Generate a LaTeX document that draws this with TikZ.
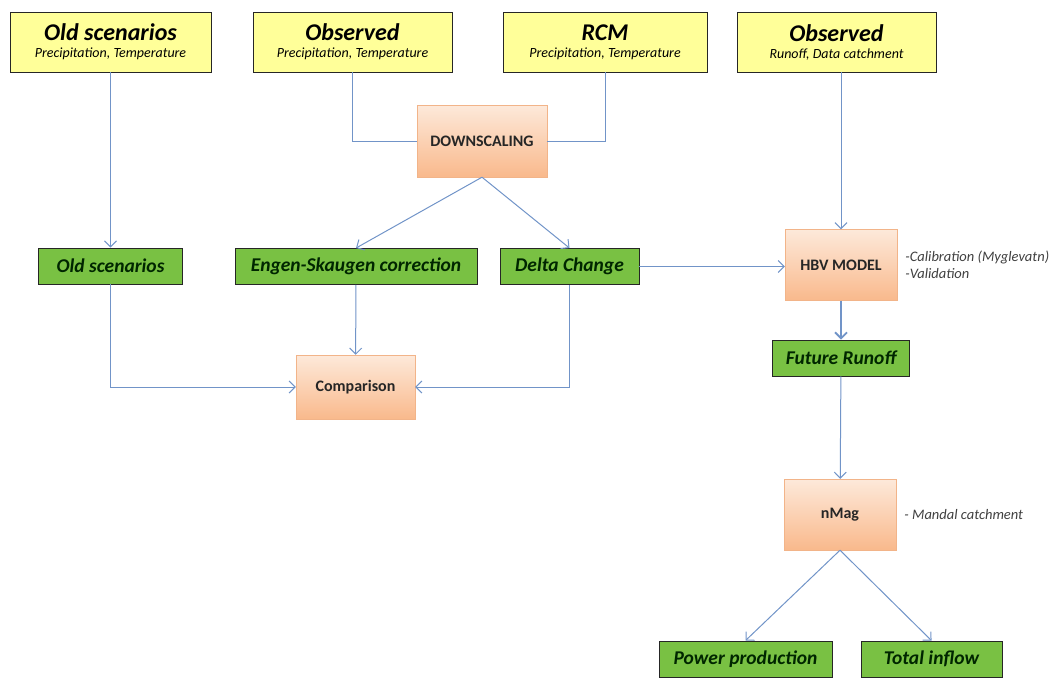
\documentclass[tikz,border=0pt]{standalone}
\usepackage{fontspec}
\setmainfont{Carlito}
\usetikzlibrary{arrows.meta}
\usetikzlibrary{positioning}

\definecolor{inyellow}{HTML}{FFFF99}
\definecolor{outgreen}{HTML}{79C143}
\definecolor{proctop}{HTML}{FDE9DA}
\definecolor{procbot}{HTML}{F9B98C}
\definecolor{procline}{HTML}{F2B489}
\definecolor{flow}{HTML}{7194C8}

\newcommand{\inlabel}[2]{{\fontsize{24}{26}\selectfont\bfseries\itshape #1}\\[5pt]{\fontsize{14}{16}\selectfont\itshape #2}}

\begin{document}
\begin{tikzpicture}[x=1pt,y=-1pt,>={Straight Barb[length=6pt,width=12pt]},
  input/.style={draw=black!85,line width=0.9pt,fill=inyellow,minimum height=60pt,align=center,inner sep=0pt},
  output/.style={draw=black!85,line width=0.9pt,fill=outgreen,minimum height=36pt,inner sep=0pt,font=\fontsize{19.5}{21}\selectfont\bfseries\itshape,text=black!85!green},
  process/.style={draw=procline,top color=proctop,bottom color=procbot,minimum width=112pt,minimum height=71pt,inner sep=0pt,font=\fontsize{16}{18}\selectfont\bfseries,text=black!85},
  note/.style={font=\fontsize{14.5}{17}\selectfont\itshape,text=black!75,align=left,inner sep=0pt},
  flowline/.style={draw=flow,line width=1pt}]
  \useasboundingbox (0,0) rectangle (1051,678);
  % the inputs
  \node[input,minimum width=201pt] (oldin) at (110.5,42) {\inlabel{Old scenarios}{Precipitation, Temperature}};
  \node[input,minimum width=199pt] (obsin) at (352.5,42) {\inlabel{Observed}{Precipitation, Temperature}};
  \node[input,minimum width=204pt] (rcmin) at (605,42) {\inlabel{RCM}{Precipitation, Temperature}};
  \node[input,minimum width=199pt] (obsrun) at (836.5,42) {\inlabel{Observed}{Runoff, Data catchment}};
  % the processes
  \node[process,minimum width=130pt,minimum height=72pt] (down) at (482,141) {DOWNSCALING};
  \node[process] (hbv) at (841,265) {HBV MODEL};
  \node[process,minimum width=119pt,minimum height=64pt] (comp) at (355.5,387) {Comparison};
  \node[process] (nmag) at (840,514.5) {nMag};
  % the outputs
  \node[output,minimum width=144pt] (oldgr) at (110.5,266) {Old scenarios};
  \node[output,minimum width=242pt] (engen) at (356,266.5) {Engen-Skaugen correction};
  \node[output,minimum width=139pt] (delta) at (569.5,266.5) {Delta Change};
  \node[output,minimum width=137pt] (future) at (841,358) {Future Runoff};
  \node[output,minimum width=173pt] (power) at (745.5,659) {Power production};
  \node[output,minimum width=141pt] (total) at (931.5,659) {Total inflow};
  % the notes
  \node[note,anchor=west] (hbvnote) at ([xshift=8pt]hbv.east) {-Calibration (Myglevatn)\\-Validation};
  \node[note,anchor=west] (nmagnote) at ([xshift=8pt]nmag.east) {- Mandal catchment};
  % the flows
  \draw[flowline] (obsin) |- (down);
  \draw[flowline] (rcmin) |- (down);
  \draw[flowline,->] (oldin) -- (oldgr);
  \draw[flowline,->] (obsrun.south -| hbv) -- (hbv);
  \draw[flowline,->] (down.south) -- (engen.north);
  \draw[flowline,->] (down.south) -- (delta.north);
  \draw[flowline,->] (delta) -- (delta -| hbv.west);
  \draw[flowline,->] (engen) -- (comp);
  \draw[flowline,->] (oldgr) |- (comp);
  \draw[flowline,->] (delta) |- (comp);
  \draw[flowline,line width=1.8pt,->] (hbv) -- (future);
  \draw[flowline,->] (future) -- (nmag);
  \draw[flowline,->] (nmag.south) -- (power.north);
  \draw[flowline,->] (nmag.south) -- (total.north);
\end{tikzpicture}
\end{document}
